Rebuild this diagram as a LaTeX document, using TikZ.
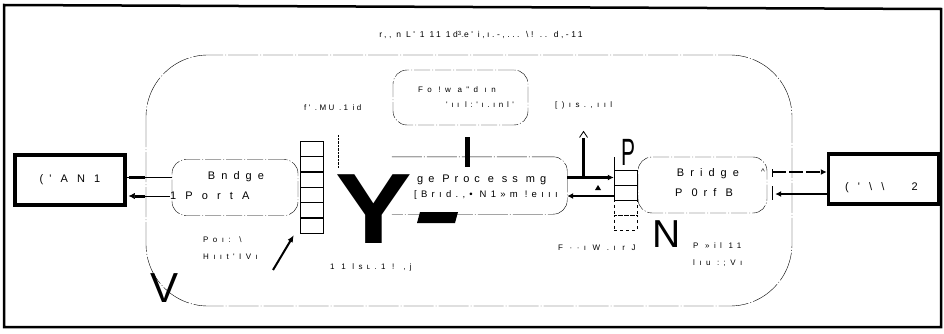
\documentclass[tikz,border=0pt]{standalone}
\usepackage{fontspec}
\setmainfont{Liberation Sans}
\newfontfamily\widefont[LetterSpace=55]{Liberation Sans}
\newfontfamily\procfont[LetterSpace=45]{Liberation Sans}
\newfontfamily\titlefont[LetterSpace=30]{Liberation Sans}
\usetikzlibrary{calc,arrows.meta}

\tikzset{
  canbox/.style={draw, line width=3.5pt, minimum width=110pt, minimum height=50pt, inner sep=0pt},
  portbox/.style={draw, dash pattern=on 16pt off 2pt on 1pt off 2pt, rounded corners=14pt,
    minimum width=126pt, minimum height=56pt, inner sep=0pt},
  cell/.style={draw, minimum width=23pt, minimum height=15.3pt, inner sep=0pt},
  note/.style={font=\fontsize{8}{9}\selectfont, inner sep=0pt},
  label/.style={font=\fontsize{11}{12}\selectfont\widefont, inner sep=0pt},
  link/.style={line width=2.8pt, -{Latex[length=6pt,width=6pt]}},
}

\begin{document}
\begin{tikzpicture}[x=1pt,y=-1pt]
    \useasboundingbox (0,0) rectangle (944,334);

    % Outer frame
    \draw[line width=2.5pt] (4,5) -- (941,9) -- (941,327) -- (4,327) -- cycle;

    % Title line
    \node[note, font=\fontsize{8.5}{9}\selectfont\titlefont] (title) at (481,35)
      {r,, n L' 1 11 1d\textsuperscript{3}\textsubscript{-}e' i,ı.-,... \textbackslash! .. d,-11};

    % Bridge outline
    \draw[dash pattern=on 30pt off 2pt on 1pt off 2pt, rounded corners=62pt] (146,55) rectangle (792,306);

    % CAN nodes
    \node[canbox] (can1) at (70,180) {\fontsize{11}{12}\selectfont\widefont(' A N 1};
    \node[canbox] (can2) at (883.5,179) {};
    \node[label, anchor=west] (can2txt) at (845,188) {( ' \textbackslash\ \textbackslash\ \ \ 2};

    % Bridge ports
    \node[portbox] (pa) at (235,187.5) {};
    \node[label] (patop) at (236,177) {Bndge};
    \node[label, anchor=west] (pabot) at (170,196) {1 P o r t A};
    \node[portbox, minimum width=129pt] (pb) at (702.5,185) {};
    \node[label] (pbtop) at (708,174) {Bridge};
    \node[label] (pbbot) at (704,193) {P 0rf B};

    % Forwarding database
    \node[portbox, minimum width=135pt, minimum height=55pt] (fdb) at (460.5,97.5) {};
    \node[note, anchor=west] (fdbtop) at (418,90) {\widefont Fo !w a"d ın};
    \node[note, anchor=west] (fdbbot) at (446,105) {\procfont 'ıı l:'ı.ınl'};
    \node[note, anchor=west] (discard) at (555,105) {\widefont [)ıs.,ııl};
    \node[note, anchor=west] (mem) at (304,108) {\titlefont f' .MU .1 id};

    % Processing block, open on its left
    \node[minimum width=175pt, minimum height=57pt, inner sep=0pt] (proc) at (479.5,185.5) {};
    \draw[dash pattern=on 30pt off 2pt on 1pt off 2pt, rounded corners=14pt]
      (proc.north west) -- (proc.north east) -- (proc.south east) -- (proc.south west);
    \node[inner sep=0pt, anchor=west, font=\fontsize{11}{12}\selectfont\procfont] (proctop) at (417,180) {ge Proc e ss mg};
    \node[inner sep=0pt, anchor=west, font=\fontsize{9.5}{11}\selectfont\procfont] (procbot) at (414,195) {[Brıd.,• N1»m !eııı};

    % Queue of port A
    \foreach \i in {0,...,5}
      \node[cell] (qa\i) at (311.5,148.7+15.33*\i) {};
    \draw[densely dotted] (338,135) -- (338,168);

    % Queue of port B
    \foreach \i in {0,1}
      \node[cell] (qb\i) at (625.5,177.5+15*\i) {};
    \foreach \i in {2,3}
      \node[cell, dashed] (qb\i) at (625.5,177.5+15*\i) {};
    \draw (qb0.north west) -- ++(0,-13);

    % Notes under the queues
    \node[note, anchor=west] (hinta) at (203,240) {\widefont Poı: \textbackslash};
    \node[note, anchor=west] (hintb) at (203,257) {\widefont Hııt'IVı};
    \coordinate (tail) at (273,270);
    \draw[line width=2pt, -{Latex[length=7pt,width=6pt]}] (tail) -- ($(qa5.south west)+(-6,2)$);
    \node[note, anchor=west] (queued) at (330,267) {\widefont 1 1 lsʟ.1 ! ,j};
    \node[note, anchor=west] (fwd) at (558,248) {\widefont F ··ı W .ı r J};
    \node[note, anchor=west] (faila) at (693,246) {\widefont P »il 11};
    \node[note, anchor=west] (failb) at (693,263) {\widefont lıu :;Vı};

    % CAN 1 <-> port A
    \draw ($(can1.east)+(0,-3)$) -- ($(pa.west)+(0,-10.5)$);
    \draw[line width=3pt] ($(can1.east)+(2,-3)$) -- ++(16,0);
    \draw[-{Latex[length=6pt,width=6pt]}] ($(pa.west)+(-2,8.5)$) -- ($(can1.east)+(2,16)$);
    \draw[line width=3pt] ($(can1.east)+(8,16)$) -- ++(10,0);

    % Processing <-> queue B
    \draw[link] (proc.east |- qb0) -- (qb0.west);
    \coordinate (back) at ($(qb1.west)+(0,3.5)$);
    \draw[link] (back) -- (proc.east |- back);
    \coordinate (drop) at ($(proc.east |- qb0)!0.35!(qb0.west)$);
    \draw[line width=2.5pt] (drop) -- ++(0,-40);
    \draw[thick] ($(drop)+(-4,-40)$) -- ($(drop)+(0,-46)$) -- ($(drop)+(4,-40)$);
    \fill (595,190) -- (598,185) -- (601,190) -- cycle;

    % Port B <-> CAN 2
    \draw[link, dash pattern=on 14pt off 3pt] ($(pb.east)+(5,-13)$) -- ($(can2.west)+(0,-7)$);
    \draw[link] ($(can2.west)+(0,15)$) -- ($(pb.east)+(8,9)$);
    \draw[thick] ($(pb.east)+(5,-16)$) -- ++(0,8);
    \draw[thick] ($(pb.east)+(5,1)$) -- ++(0,14);
    \node[note] (caret) at (763,172) {\^{}};

    % Large marks
    \node[inner sep=0pt, font=\fontsize{100}{100}\selectfont\bfseries] (ybig) at (374,209) {\scalebox{1.15}[1]{Y}};
    \fill (420,212) -- (458,212) -- (455,223) -- (417,223) -- cycle;
    \fill (465,137) rectangle (470,167);
    \node[inner sep=0pt, font=\fontsize{42}{42}\selectfont] (vbig) at (165,288) {V};
    \node[inner sep=0pt, font=\fontsize{39}{39}\selectfont] (nbig) at (667,234) {N};
    \node[inner sep=0pt, font=\fontsize{38}{38}\selectfont] (pbig) at (628,152) {\scalebox{0.55}[1]{P}};
\end{tikzpicture}
\end{document}
